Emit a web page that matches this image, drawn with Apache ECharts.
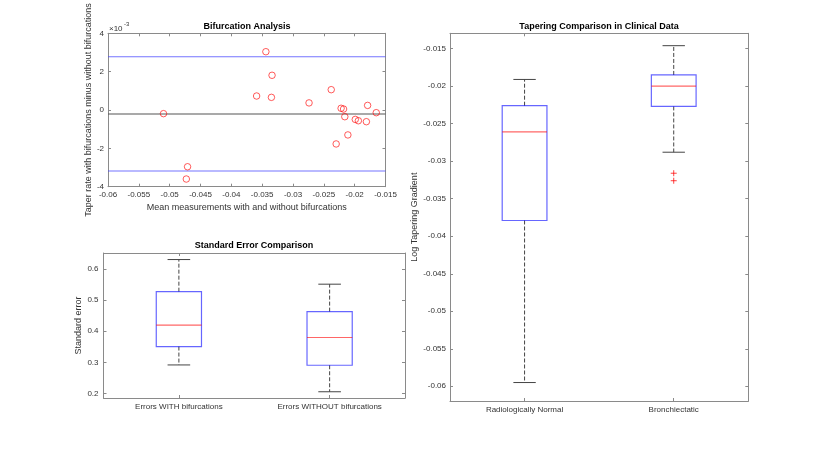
<!DOCTYPE html>
<html>
<head>
<meta charset="utf-8">
<script src="https://cdn.jsdelivr.net/npm/echarts@6/dist/echarts.min.js"></script>
<style>html,body{margin:0;padding:0;background:#fff}#main{width:830px;height:450px}</style>
</head>
<body>
<div id="main"></div>
<script>
// Bland-Altman: mean of both measurements vs difference (in units of 1e-3)
var baMean = [-0.0510,-0.0471,-0.0473,-0.0359,-0.0344,-0.0334,-0.0335,-0.0274,-0.0238,-0.0230,-0.0222,-0.0218,-0.0216,-0.0211,-0.0199,-0.0194,-0.0181,-0.0179,-0.0165];
var baDiff = [-0.19,-2.96,-3.60,0.73,3.04,1.81,0.66,0.37,1.06,-1.77,0.09,0.05,-0.35,-1.30,-0.49,-0.56,-0.61,0.24,-0.14];
var baLimits = [2.78,-3.18]; // mean +/- 1.96 sd
var baBias = -0.21;

// standard error boxplot
var seCats = ['Errors WITH bifurcations','Errors WITHOUT bifurcations'];
var seLow  = [0.292,0.206];
var seQ1   = [0.351,0.291];
var seMed  = [0.420,0.380];
var seQ3   = [0.527,0.463];
var seHigh = [0.630,0.551];

// clinical tapering boxplot
var ctCats = ['Radiologically Normal','Bronchiectatic'];
var ctLow  = [-0.0595,-0.0288];
var ctQ1   = [-0.0379,-0.0227];
var ctMed  = [-0.0261,-0.0200];
var ctQ3   = [-0.0226,-0.0185];
var ctHigh = [-0.0191,-0.0146];
var ctOutliers = [[1,-0.0316],[1,-0.0326]];

var FONT = "'Liberation Sans', Arial, Helvetica, sans-serif";
var AX = '#8a8a8a', TXT = '#333';
var BLUE = 'rgba(0,0,255,0.6)', RED = 'rgba(255,0,0,0.6)', WHISK = '#444';
var LIMIT_BLUE = 'rgba(70,70,255,0.75)';

var mychart = echarts.init(document.getElementById('main'));

function fmt(d){ return function(v){ return String(+v.toFixed(d)); }; }

function boxItem(params, api){
    var i = api.value(0);
    var lo = api.coord([i, api.value(1)]), q1 = api.coord([i, api.value(2)]);
    var md = api.coord([i, api.value(3)]), q3 = api.coord([i, api.value(4)]);
    var hi = api.coord([i, api.value(5)]);
    var band = api.size([1, 0])[0];
    var hw = band * 0.15, cw = band * 0.075, x = lo[0];
    var dash = {stroke: WHISK, lineWidth: 1, lineDash: [4, 2]};
    var solid = {stroke: WHISK, lineWidth: 1};
    return {type: 'group', children: [
        {type: 'line', shape: {x1: x, y1: q3[1], x2: x, y2: hi[1]}, style: dash},
        {type: 'line', shape: {x1: x, y1: q1[1], x2: x, y2: lo[1]}, style: dash},
        {type: 'line', shape: {x1: x - cw, y1: hi[1], x2: x + cw, y2: hi[1]}, style: solid},
        {type: 'line', shape: {x1: x - cw, y1: lo[1], x2: x + cw, y2: lo[1]}, style: solid},
        {type: 'rect', shape: {x: x - hw, y: q3[1], width: 2 * hw, height: q1[1] - q3[1]},
            style: {fill: 'none', stroke: BLUE, lineWidth: 1.2}},
        {type: 'line', shape: {x1: x - hw, y1: md[1], x2: x + hw, y2: md[1]}, style: {stroke: RED, lineWidth: 1.2}}
    ]};
}

function plusItem(params, api){
    var p = api.coord([api.value(0), api.value(1)]);
    var s = 3, st = {stroke: 'rgba(255,0,0,0.75)', lineWidth: 1};
    return {type: 'group', children: [
        {type: 'line', shape: {x1: p[0] - s, y1: p[1], x2: p[0] + s, y2: p[1]}, style: st},
        {type: 'line', shape: {x1: p[0], y1: p[1] - s, x2: p[0], y2: p[1] + s}, style: st}
    ]};
}

// horizontal reference line across the whole x range of the top-left plot
function hLine(y, color){
    return {
        type: 'line', xAxisIndex: 0, yAxisIndex: 0, silent: true, symbol: 'none',
        data: [[-0.06, y], [-0.015, y]],
        lineStyle: {color: color, width: 1.1}, z: 1
    };
}

function boxRows(lo, q1, md, q3, hi){
    return lo.map(function(v, i){ return [i, lo[i], q1[i], md[i], q3[i], hi[i]]; });
}

// axis helpers
function axLine(){ return {show: true, onZero: false, lineStyle: {color: AX, width: 1}}; }
function axTick(align){ return {show: true, inside: true, length: 3, alignWithLabel: !!align, lineStyle: {color: AX}}; }
function axLabel(show, f, margin){
    return {show: show, color: TXT, fontSize: 8, fontFamily: FONT, margin: margin || 4, formatter: f,
        showMinLabel: false, showMaxLabel: false};
}
function nameStyle(){ return {color: TXT, fontSize: 9, fontFamily: FONT}; }

function title(text, x, y){
    return {type: 'text', x: x, y: y, style: {text: text, fontSize: 9, fontWeight: 'bold', fontFamily: FONT,
        fill: '#000', align: 'center', verticalAlign: 'middle'}};
}

option = {
    backgroundColor: '#fff',
    animation: false,
    graphic: [
        title('Bifurcation Analysis', 247, 27),
        title('Standard Error Comparison', 254, 246),
        title('Tapering Comparison in Clinical Data', 599, 27),
        {type: 'text', x: 109, y: 25, style: {text: '×10', fontSize: 8, fontFamily: FONT, fill: TXT}},
        {type: 'text', x: 124, y: 21, style: {text: '-3', fontSize: 6, fontFamily: FONT, fill: TXT}}
    ],
    grid: [
        {left: 108, right: 444.5, top: 33.3, bottom: 263.3},
        {left: 103.5, right: 425, top: 253, bottom: 52},
        {left: 450, right: 81.7, top: 33.3, bottom: 49}
    ],
    xAxis: [
        {gridIndex: 0, type: 'value', min: -0.06, max: -0.015, interval: 0.005, position: 'bottom',
            axisLine: axLine(), axisTick: axTick(), splitLine: {show: false},
            axisLabel: {color: TXT, fontSize: 8, fontFamily: FONT, margin: 4, formatter: fmt(3)},
            name: 'Mean measurements with and without bifurcations', nameLocation: 'middle', nameGap: 16, nameTextStyle: nameStyle()},
        {gridIndex: 0, type: 'value', min: -0.06, max: -0.015, interval: 0.005, position: 'top',
            axisLine: axLine(), axisTick: axTick(), splitLine: {show: false}, axisLabel: {show: false}},
        {gridIndex: 1, type: 'category', data: seCats, position: 'bottom',
            axisLine: axLine(), axisTick: axTick(true), splitLine: {show: false},
            axisLabel: {color: TXT, fontSize: 8, fontFamily: FONT, margin: 5}},
        {gridIndex: 1, type: 'category', data: seCats, position: 'top',
            axisLine: axLine(), axisTick: axTick(true), splitLine: {show: false}, axisLabel: {show: false}},
        {gridIndex: 2, type: 'category', data: ctCats, position: 'bottom',
            axisLine: axLine(), axisTick: axTick(true), splitLine: {show: false},
            axisLabel: {color: TXT, fontSize: 8, fontFamily: FONT, margin: 5}},
        {gridIndex: 2, type: 'category', data: ctCats, position: 'top',
            axisLine: axLine(), axisTick: axTick(true), splitLine: {show: false}, axisLabel: {show: false}}
    ],
    yAxis: [
        {gridIndex: 0, type: 'value', min: -4, max: 4, interval: 2, position: 'left',
            axisLine: axLine(), axisTick: axTick(), splitLine: {show: false},
            axisLabel: {color: TXT, fontSize: 8, fontFamily: FONT, margin: 4},
            name: 'Taper rate with bifurcations minus without bifurcations', nameLocation: 'middle', nameGap: 11, nameTextStyle: nameStyle()},
        {gridIndex: 0, type: 'value', min: -4, max: 4, interval: 2, position: 'right',
            axisLine: axLine(), axisTick: axTick(), splitLine: {show: false}, axisLabel: {show: false}},
        {gridIndex: 1, type: 'value', min: 0.186, max: 0.651, splitNumber: 5, position: 'left',
            axisLine: axLine(), axisTick: axTick(), splitLine: {show: false},
            axisLabel: axLabel(true, fmt(2), 5),
            name: 'Standard error', nameLocation: 'middle', nameGap: 18, nameTextStyle: nameStyle()},
        {gridIndex: 1, type: 'value', min: 0.186, max: 0.651, splitNumber: 5, position: 'right',
            axisLine: axLine(), axisTick: axTick(), splitLine: {show: false}, axisLabel: {show: false}},
        {gridIndex: 2, type: 'value', min: -0.06196, max: -0.01295, splitNumber: 10, position: 'left',
            axisLine: axLine(), axisTick: axTick(), splitLine: {show: false},
            axisLabel: axLabel(true, fmt(4), 4),
            name: 'Log Tapering Gradient', nameLocation: 'middle', nameGap: 30, nameTextStyle: nameStyle()},
        {gridIndex: 2, type: 'value', min: -0.06196, max: -0.01295, splitNumber: 10, position: 'right',
            axisLine: axLine(), axisTick: axTick(), splitLine: {show: false}, axisLabel: {show: false}}
    ],
    series: [
        hLine(baLimits[0], LIMIT_BLUE),
        hLine(baBias, '#555'),
        hLine(baLimits[1], LIMIT_BLUE),
        {
            type: 'scatter', xAxisIndex: 0, yAxisIndex: 0, z: 3,
            data: baMean.map(function(m, i){ return [m, baDiff[i]]; }),
            symbol: 'circle', symbolSize: 6.5,
            itemStyle: {color: 'transparent', borderColor: 'rgba(255,0,0,0.8)', borderWidth: 1}
        },
        {
            type: 'custom', xAxisIndex: 2, yAxisIndex: 2, renderItem: boxItem,
            encode: {x: 0, y: [1, 2, 3, 4, 5]},
            data: boxRows(seLow, seQ1, seMed, seQ3, seHigh)
        },
        {
            type: 'custom', xAxisIndex: 4, yAxisIndex: 4, renderItem: boxItem,
            encode: {x: 0, y: [1, 2, 3, 4, 5]},
            data: boxRows(ctLow, ctQ1, ctMed, ctQ3, ctHigh)
        },
        {
            type: 'custom', xAxisIndex: 4, yAxisIndex: 4, renderItem: plusItem,
            encode: {x: 0, y: 1},
            data: ctOutliers
        }
    ]
};

mychart.setOption(option);
</script>
</body>
</html>
